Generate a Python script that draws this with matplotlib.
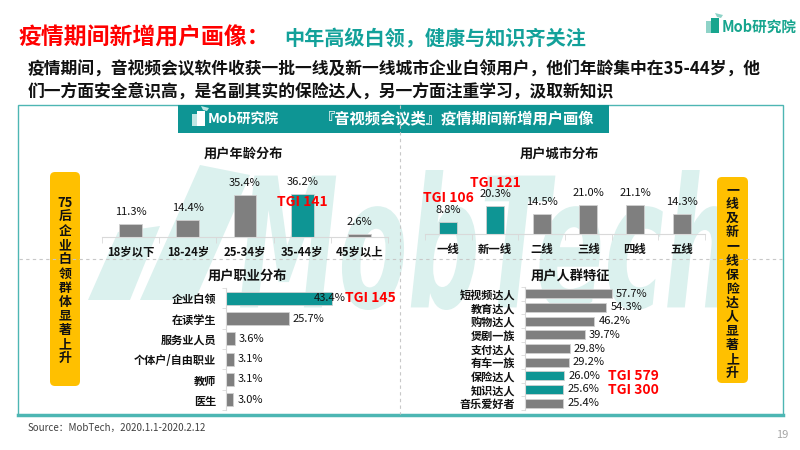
import numpy as np
import matplotlib
matplotlib.use("Agg")
import matplotlib.pyplot as plt
from matplotlib.patches import Rectangle, FancyBboxPatch, PathPatch, Polygon
from matplotlib.textpath import TextPath
from matplotlib.font_manager import FontProperties
from matplotlib.transforms import Affine2D

plt.rcParams['font.family'] = ['Noto Sans CJK SC', 'DejaVu Sans']

TEAL = '#0E9594'
TITLE_TEAL = '#13A19A'
GRAY = '#7F7F7F'
RED = '#FF0000'
YELLOW = '#FFC000'
WMARK = '#DBF1EE'
W, H = 800, 450

# ==== data ====
age_labels = ['18岁以下', '18-24岁', '25-34岁', '35-44岁', '45岁以上']
age_values = [11.3, 14.4, 35.4, 36.2, 2.6]
age_tgi = {3: 141}

city_labels = ['一线', '新一线', '二线', '三线', '四线', '五线']
city_values = [8.8, 20.3, 14.5, 21.0, 21.1, 14.3]
city_tgi = {0: 106, 1: 121}

job_labels = ['企业白领', '在读学生', '服务业人员', '个体户/自由职业', '教师', '医生']
job_values = [43.4, 25.7, 3.6, 3.1, 3.1, 3.0]
job_tgi = {0: 145}

tag_labels = ['短视频达人', '教育达人', '购物达人', '煲剧一族', '支付达人',
              '有车一族', '保险达人', '知识达人', '音乐爱好者']
tag_values = [57.7, 54.3, 46.2, 39.7, 29.8, 29.2, 26.0, 25.6, 25.4]
tag_tgi = {6: 579, 7: 300}


def px_rect(x0, y0, x1, y1):
    return [x0 / W, 1 - y1 / H, (x1 - x0) / W, (y1 - y0) / H]


fig = plt.figure(figsize=(8, 4.5), dpi=100)
bg = fig.add_axes([0, 0, 1, 1])
bg.set_xlim(0, W)
bg.set_ylim(H, 0)
bg.axis('off')

# ---- header ----
bg.text(18, 38, '疫情期间新增用户画像：', color=RED, fontsize=16.5,
        fontweight='bold', va='center', ha='left')
bg.text(284, 39, '中年高级白领，健康与知识齐关注', color=TITLE_TEAL, fontsize=14.5,
        fontweight='bold', va='center', ha='left')
bg.text(28, 70, '疫情期间，音视频会议软件收获一批一线及新一线城市企业白领用户，他们年龄集中在35-44岁，他',
        fontsize=12.1, fontweight='bold', va='center', ha='left', color='#111111')
bg.text(28, 92, '们一方面安全意识高，是名副其实的保险达人，另一方面注重学习，汲取新知识',
        fontsize=12.1, fontweight='bold', va='center', ha='left', color='#111111')


def logo(x, y, color_a, color_b, text_color, fs):
    bg.add_patch(Rectangle((x, y - 6), 5, 12, color=color_b, lw=0))
    bg.add_patch(Rectangle((x + 5, y - 9), 8, 15, color=color_a, lw=0))
    bg.add_patch(Polygon([[x + 9, y - 14], [x + 17, y - 12], [x + 15, y - 9], [x + 11, y - 10]],
                         color=color_b, lw=0))
    bg.text(x + 16, y, 'Mob研究院', color=text_color, fontsize=fs, style='italic',
            fontweight='bold', va='center', ha='left')


logo(706, 27, '#17A58E', '#8FD3C8', '#17A58E', 10.5)

# ---- main box ----
bg.add_patch(Rectangle((18, 105), 765, 310, fill=False, edgecolor='#4DB6B3', lw=1.0))
bg.plot([18, 783], [415, 415], color='#4DB6B3', lw=2.5)
bg.plot([400, 400], [105, 414], color='#C8C8C8', lw=0.8, ls=(0, (3, 3)))
bg.plot([19, 782], [259, 259], color='#C8C8C8', lw=0.8, ls=(0, (3, 3)))

# watermark
tp = TextPath((0, 0), 'MobTech', size=1,
              prop=FontProperties(family='DejaVu Sans', weight='bold', style='italic'))
ext = tp.get_extents()
tr = Affine2D().translate(-ext.x0, -ext.y0).scale(490 / ext.width, -140 / ext.height).translate(240, 310)
bg.add_patch(PathPatch(tr.transform_path(tp), color=WMARK, lw=0, zorder=0.5))
bg.add_patch(Polygon([[88, 300], [118, 232], [160, 226], [130, 300]], color=WMARK, lw=0, zorder=0.5))
bg.add_patch(Polygon([[140, 300], [200, 165], [250, 175], [195, 300]], color=WMARK, lw=0, zorder=0.5))

# banner
bg.add_patch(Rectangle((178, 105), 431, 28, color=TEAL, lw=0))
logo(192, 120, 'white', '#BFE6E4', 'white', 10)
bg.text(320, 119, '『音视频会议类』疫情期间新增用户画像', color='white', fontsize=11,
        fontweight='bold', va='center', ha='left')

# yellow side notes
for x0, y0, x1, y1, lines in [
    (50, 172, 80, 386, ['75'] + list('后企业白领群体显著上升')),
    (717, 177, 748, 383, list('一线及新一线保险达人显著上升')),
]:
    bg.add_patch(FancyBboxPatch((x0, y0), x1 - x0, y1 - y0,
                                boxstyle='round,pad=0,rounding_size=5',
                                color=YELLOW, lw=0))
    for k, s in enumerate(lines):
        bg.text((x0 + x1) / 2, 190 + k * 14.1 + (13 if x0 < 100 else 0), s,
                fontsize=9.3, fontweight='bold', ha='center', va='center', color='#111111')

# chart titles
for x, y, s in [(243, 154, '用户年龄分布'), (559, 154, '用户城市分布'),
                (247, 276, '用户职业分布'), (570, 276, '用户人群特征')]:
    bg.text(x, y, s, fontsize=9.5, fontweight='bold', ha='center', va='center', color='#111111')

bg.text(28, 428, 'Source：MobTech，2020.1.1-2020.2.12', fontsize=7, color='#404040',
        va='center', ha='left')
bg.text(788, 435, '19', fontsize=8, color='#A6A6A6', va='center', ha='right')


# ---- vertical bar charts ----
def vbar(rect, labels, values, tgi, ymax, width, tgi_inside):
    ax = fig.add_axes(px_rect(*rect))
    ax.set_facecolor('none')
    x = np.arange(len(values))
    colors = [TEAL if i in tgi else GRAY for i in x]
    ax.bar(x, values, width=width, color=colors, edgecolor='#D0D0D0', linewidth=0.6)
    ax.set_xlim(-0.5, len(values) - 0.5)
    ax.set_ylim(0, ymax)
    for s in ['top', 'right', 'left']:
        ax.spines[s].set_visible(False)
    ax.spines['bottom'].set_color('#D9D9D9')
    ax.set_yticks([])
    ax.set_xticks(x)
    ax.set_xticklabels(labels, fontsize=8.2, fontweight='bold', color='#111111')
    ax.set_xticks(np.arange(len(values) + 1) - 0.5, minor=True)
    ax.tick_params(axis='x', which='major', length=0, pad=6.5)
    ax.tick_params(axis='x', which='minor', length=4, color='#D9D9D9')
    for i, v in enumerate(values):
        ax.annotate(f'{v:.1f}%', (i, v), xytext=(0, 5), textcoords='offset points',
                    ha='center', va='bottom', fontsize=8, color='#111111')
        if i in tgi:
            dy = -6 if tgi_inside else 17
            ax.annotate(f'TGI {tgi[i]}', (i, v), xytext=(0, dy), textcoords='offset points',
                        ha='center', va='center', fontsize=10, fontweight='bold', color=RED)
    return ax


vbar((102, 237 - 47.6, 388, 237), age_labels, age_values, age_tgi, 40, 0.40, True)
vbar((425, 234 - 34.3, 705, 234), city_labels, city_values, city_tgi, 25, 0.39, False)


# ---- horizontal bar charts ----
def hbar(rect, labels, values, tgi, xmax, height, tgi_x_pt, first_inside):
    ax = fig.add_axes(px_rect(*rect))
    ax.set_facecolor('none')
    y = np.arange(len(values))
    colors = [TEAL if i in tgi else GRAY for i in y]
    ax.barh(y, values, height=height, color=colors, edgecolor='#D0D0D0', linewidth=0.6)
    ax.set_ylim(len(values) - 0.5, -0.5)
    ax.set_xlim(0, xmax)
    for s in ['top', 'right', 'bottom']:
        ax.spines[s].set_visible(False)
    ax.spines['left'].set_color('#D9D9D9')
    ax.set_xticks([])
    ax.set_yticks(y)
    ax.set_yticklabels(labels, fontsize=8, fontweight='bold', color='#111111')
    ax.set_yticks(np.arange(len(values) + 1) - 0.5, minor=True)
    ax.tick_params(axis='y', which='major', length=0, pad=7)
    ax.tick_params(axis='y', which='minor', length=3, color='#D9D9D9')
    for i, v in enumerate(values):
        if first_inside and i == 0:
            ax.annotate(f'{v:.1f}%', (v, i), xytext=(10, 0), textcoords='offset points',
                        ha='right', va='center', fontsize=8, color='#111111')
        else:
            ax.annotate(f'{v:.1f}%', (v, i), xytext=(3, 0), textcoords='offset points',
                        ha='left', va='center', fontsize=8, color='#111111')
        if i in tgi:
            ax.annotate(f'TGI {tgi[i]}', (0, i), xytext=(tgi_x_pt, 0), textcoords='offset points',
                        ha='left', va='center', fontsize=10, fontweight='bold', color=RED)
    return ax


hbar((226, 288, 348, 410), job_labels, job_values, job_tgi, 50, 0.64, 86, True)
hbar((525, 287, 615, 410), tag_labels, tag_values, tag_tgi, 60, 0.66, 60, False)

fig.savefig('out.png', dpi=100)
